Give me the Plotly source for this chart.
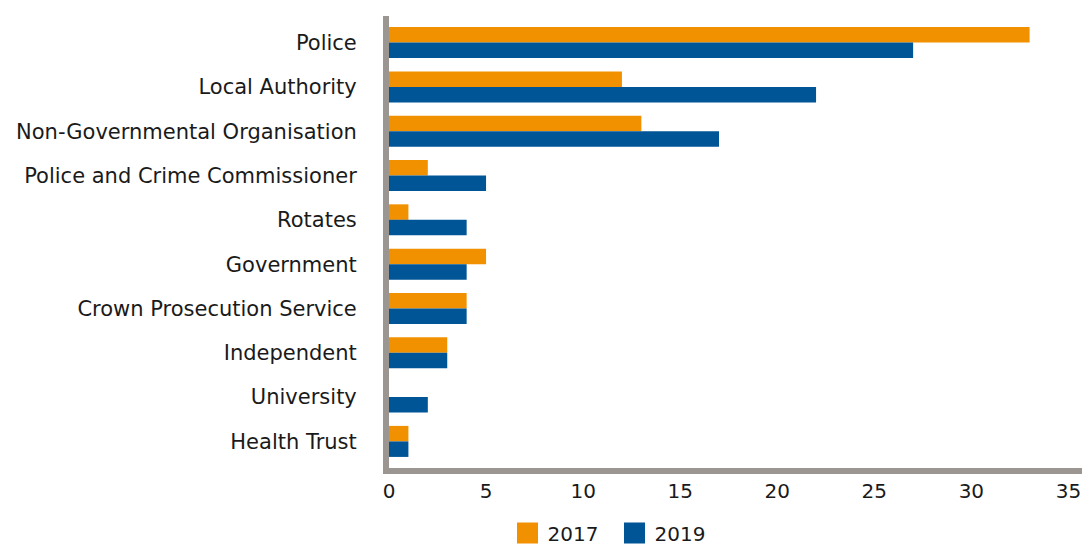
import plotly.graph_objects as go

categories = ["Police", "Local Authority", "Non-Governmental Organisation",
              "Police and Crime Commissioner", "Rotates", "Government",
              "Crown Prosecution Service", "Independent", "University", "Health Trust"]
values_2017 = [33, 12, 13, 2, 1, 5, 4, 3, 0, 1]
values_2019 = [27, 22, 17, 5, 4, 4, 4, 3, 2, 1]
series_names = ["2017", "2019"]
x_ticks = [0, 5, 10, 15, 20, 25, 30, 35]

ORANGE = "#F29100"
BLUE = "#005596"
GREY = "#9B9692"
FONT = "DejaVu Sans"

fig = go.Figure()
for name, vals, col in zip(series_names, [values_2017, values_2019], [ORANGE, BLUE]):
    fig.add_trace(go.Bar(y=categories, x=vals, name=name, orientation="h",
                         marker=dict(color=col, line=dict(width=0)),
                         showlegend=False, legendgroup=name))
# legend entries with larger square swatches
for name, col in zip(series_names, [ORANGE, BLUE]):
    fig.add_trace(go.Scatter(x=[None], y=[None], mode="markers", name=name,
                             legendgroup=name,
                             marker=dict(symbol="square", size=16, color=col,
                                         line=dict(color=col, width=5))))

fig.update_layout(
    width=1084, height=546,
    margin=dict(l=389, r=2, t=16, b=78, pad=0),
    plot_bgcolor="white", paper_bgcolor="white",
    barmode="group", bargap=0.3, bargroupgap=0,
    font=dict(family=FONT, size=20, color="#1a1a1a"),
    showlegend=True,
    legend=dict(orientation="h", xref="container", x=0.4682, xanchor="left",
                yref="container", y=0.0238, yanchor="middle",
                font=dict(size=20), entrywidth=62, entrywidthmode="pixels",
                itemsizing="trace", traceorder="normal", bgcolor="rgba(0,0,0,0)"),
    xaxis=dict(range=[0, 35.7], tickvals=x_ticks, showgrid=False, zeroline=False,
               showline=True, linecolor=GREY, linewidth=6, ticks="",
               automargin=False, ticklabelstandoff=0, tickfont=dict(size=20)),
    yaxis=dict(categoryorder="array", categoryarray=categories, range=[9.6, -0.6],
               showgrid=False, zeroline=False, showline=True, linecolor=GREY,
               linewidth=6, ticks="", automargin=False,
               ticklabelstandoff=22, tickfont=dict(size=21)),
)

fig.write_html(
    "out.html",
    config={"displayModeBar": False},
    post_script="document.body.style.margin='0';"
                "document.documentElement.style.overflow='hidden';"
                "document.body.style.overflow='hidden';",
)
